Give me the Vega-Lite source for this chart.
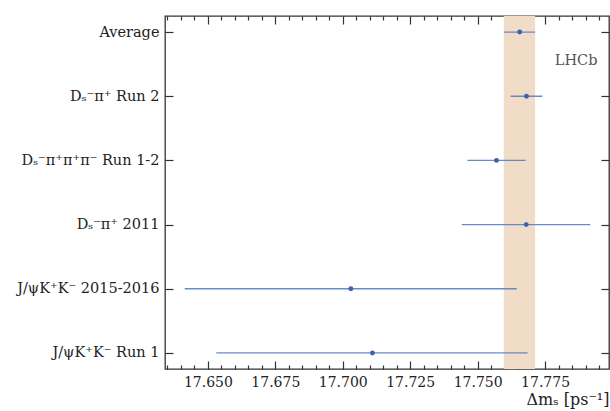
{
  "$schema": "https://vega.github.io/schema/vega-lite/v6.json",
  "width": 444,
  "height": 353,
  "autosize": {"type": "none"},
  "padding": {"left": 165, "top": 16, "right": 1, "bottom": 42},
  "background": "white",
  "config": {
    "view": {"stroke": "#333", "strokeWidth": 1.3},
    "font": "DejaVu Serif",
    "axis": {"domain": false, "grid": false, "tickColor": "#333", "tickWidth": 1.2, "labelFont": "DejaVu Serif", "titleFont": "DejaVu Serif", "labelColor": "#222", "titleColor": "#222", "titleFontWeight": "normal"}
  },
  "datasets": {
    "meas": [
      {"name": "Average", "value": 17.7656, "lo": 17.7597, "hi": 17.7713},
      {"name": "Dₛ⁻π⁺ Run 2", "value": 17.7681, "lo": 17.7622, "hi": 17.7740},
      {"name": "Dₛ⁻π⁺π⁺π⁻ Run 1-2", "value": 17.7570, "lo": 17.7462, "hi": 17.7678},
      {"name": "Dₛ⁻π⁺ 2011", "value": 17.7680, "lo": 17.7441, "hi": 17.7918},
      {"name": "J/ψK⁺K⁻ 2015-2016", "value": 17.7030, "lo": 17.6414, "hi": 17.7645},
      {"name": "J/ψK⁺K⁻ Run 1", "value": 17.7110, "lo": 17.6531, "hi": 17.7685}
    ],
    "band": [{"lo": 17.7597, "hi": 17.7713}],
    "note": [{"label": "LHCb", "name": "Average", "x": 17.7865}]
  },
  "resolve": {"axis": {"x": "independent", "y": "independent"}},
  "layer": [
    {
      "data": {"name": "band"},
      "mark": {"type": "rect", "color": "#f1dcc7"},
      "encoding": {
        "x": {"field": "lo", "type": "quantitative", "scale": {"domain": [17.6341, 17.7987], "nice": false, "zero": false},
          "axis": {"orient": "top", "values": [17.65, 17.675, 17.7, 17.725, 17.75, 17.775], "tickSize": 8, "offset": -8, "labels": false, "title": null}},
        "x2": {"field": "hi"}
      }
    },
    {
      "data": {"name": "meas"},
      "mark": {"type": "rule", "color": "#5a80c0", "strokeWidth": 1.3, "opacity": 0.9},
      "encoding": {
        "x": {"field": "lo", "type": "quantitative",
          "axis": {"orient": "top", "values": [17.635, 17.64, 17.645, 17.655, 17.66, 17.665, 17.67, 17.68, 17.685, 17.69, 17.695, 17.705, 17.71, 17.715, 17.72, 17.73, 17.735, 17.74, 17.745, 17.755, 17.76, 17.765, 17.77, 17.78, 17.785, 17.79, 17.795], "tickSize": 4, "offset": -4, "labels": false, "title": null}},
        "x2": {"field": "hi"},
        "y": {"field": "name", "type": "nominal", "sort": null, "scale": {"type": "point", "padding": 0.25},
          "axis": {"orient": "right", "tickSize": 8, "offset": -8, "labels": false, "title": null}}
      }
    },
    {
      "data": {"name": "meas"},
      "mark": {"type": "point", "filled": true, "color": "#3a64b0", "size": 24, "opacity": 1},
      "encoding": {
        "x": {"field": "value", "type": "quantitative",
          "axis": {"orient": "bottom", "values": [17.65, 17.675, 17.7, 17.725, 17.75, 17.775], "format": ".3f", "tickSize": 8, "offset": -8, "labelFontSize": 14, "labelPadding": 6, "title": "Δmₛ [ps⁻¹]", "titleFontSize": 16, "titleAnchor": "end", "titleAlign": "right", "titlePadding": 2}},
        "y": {"field": "name", "type": "nominal", "sort": null,
          "axis": {"orient": "left", "tickSize": 8, "offset": -8, "labelFontSize": 14.5, "labelPadding": 6, "title": null}}
      }
    },
    {
      "data": {"name": "note"},
      "mark": {"type": "text", "fontSize": 14.5, "color": "#555", "dy": 29, "font": "DejaVu Serif"},
      "encoding": {
        "x": {"field": "x", "type": "quantitative",
          "axis": {"orient": "bottom", "values": [17.635, 17.64, 17.645, 17.655, 17.66, 17.665, 17.67, 17.68, 17.685, 17.69, 17.695, 17.705, 17.71, 17.715, 17.72, 17.73, 17.735, 17.74, 17.745, 17.755, 17.76, 17.765, 17.77, 17.78, 17.785, 17.79, 17.795], "tickSize": 4, "offset": -4, "labels": false, "title": null}},
        "y": {"field": "name", "type": "nominal", "sort": null, "axis": null},
        "text": {"field": "label"}
      }
    }
  ]
}
